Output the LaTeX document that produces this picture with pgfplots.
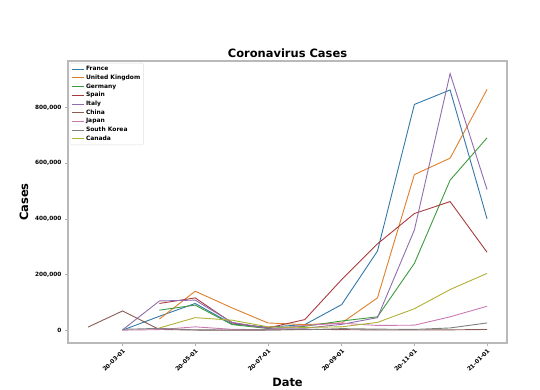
\documentclass[border=0pt]{standalone}
\usepackage{fontspec}
\setmainfont{DejaVu Sans}
\usepackage{pgfplots}
\pgfplotsset{compat=1.18}
\definecolor{cFR}{HTML}{3279AA}
\definecolor{cUK}{HTML}{DF7F2A}
\definecolor{cDE}{HTML}{3D9A3D}
\definecolor{cES}{HTML}{A83A3E}
\definecolor{cIT}{HTML}{8F6DAE}
\definecolor{cCN}{HTML}{8A5C53}
\definecolor{cJP}{HTML}{CA79B2}
\definecolor{cKR}{HTML}{7F7F7F}
\definecolor{cCA}{HTML}{B0B135}
\begin{document}
\begin{tikzpicture}
\begin{axis}[
  at={(68bp,47bp)}, anchor=south west,
  scale only axis, width=439bp, height=282bp,
  xmin=14.25, xmax=382.75, ymin=-46050, ymax=967050,
  xtick={60,121,182,244,305,366},
  xticklabels={20-03-01,20-05-01,20-07-01,20-09-01,20-11-01,21-01-01},
  ytick={0,200000,400000,600000,800000},
  scaled y ticks=false,
  /pgf/number format/assume math mode=true,
  y tick label style={/pgf/number format/fixed, /pgf/number format/1000 sep={,}},
  tick label style={font=\fontsize{5.8}{7}\selectfont\bfseries},
  x tick label style={rotate=45, anchor=north east, inner sep=1.5bp},
  axis line style={gray!55, line width=1.1bp},
  tick style={gray!60, line width=0.6bp},
  major tick length=3bp, tick align=outside,
  xtick pos=bottom, ytick pos=left,
  title={Coronavirus Cases},
  title style={font=\fontsize{11.5}{13}\selectfont\bfseries, yshift=-6bp},
  xlabel={Date}, ylabel={Cases},
  label style={font=\fontsize{11.5}{13}\selectfont\bfseries},
  xlabel style={yshift=-1bp},
  legend style={at={(0.004,0.993)}, anchor=north west,
    font=\fontsize{6}{7}\selectfont\bfseries,
    draw=gray!25, rounded corners=1.5bp, fill=white,
    inner sep=1.8bp, row sep=0bp, nodes={inner sep=1.35bp}},
  legend cell align=left,
  legend image code/.code={\draw[#1] (0bp,0bp) -- (12bp,0bp);},
  every axis plot/.append style={mark=none, line width=0.9bp},
]
\addplot[cFR] coordinates {(60,100) (91,50000) (121,96000) (152,22000) (182,11000) (213,20000) (244,92000) (274,284000) (305,811000) (335,863000) (366,400000)};
\addlegendentry{France}
\addplot[cUK] coordinates {(91,40000) (121,140000) (152,80000) (182,26000) (213,20000) (244,26000) (274,116000) (305,559000) (335,618000) (366,865000)};
\addlegendentry{United Kingdom}
\addplot[cDE] coordinates {(91,72000) (121,90000) (152,20000) (182,6000) (213,14000) (244,33000) (274,48000) (305,240000) (335,539000) (366,691000)};
\addlegendentry{Germany}
\addplot[cES] coordinates {(91,96000) (121,116000) (152,26000) (182,8000) (213,38000) (244,182000) (274,310000) (305,419000) (335,462000) (366,280000)};
\addlegendentry{Spain}
\addplot[cIT] coordinates {(60,1000) (91,105000) (121,108000) (152,28000) (182,7000) (213,7000) (244,21000) (274,45000) (305,360000) (335,922000) (366,505000)};
\addlegendentry{Italy}
\addplot[cCN] coordinates {(31,11000) (60,69000) (91,2500) (121,500) (152,100) (182,500) (213,3000) (244,2000) (274,800) (305,700) (335,1200) (366,2500)};
\addlegendentry{China}
\addplot[cJP] coordinates {(60,200) (91,2000) (121,12000) (152,3000) (182,2000) (213,17000) (244,25000) (274,17000) (305,18000) (335,48000) (366,86000)};
\addlegendentry{Japan}
\addplot[cKR] coordinates {(60,3000) (91,6500) (121,1000) (152,700) (182,1300) (213,1500) (244,5600) (274,3800) (305,2700) (335,8000) (366,26000)};
\addlegendentry{South Korea}
\addplot[cCA] coordinates {(91,8000) (121,45000) (152,36000) (182,12000) (213,10000) (244,12000) (274,28000) (305,77000) (335,146000) (366,204000)};
\addlegendentry{Canada}
\end{axis}
\pgfresetboundingbox
\useasboundingbox (0,0) rectangle (540bp,390bp);
\end{tikzpicture}
\end{document}
